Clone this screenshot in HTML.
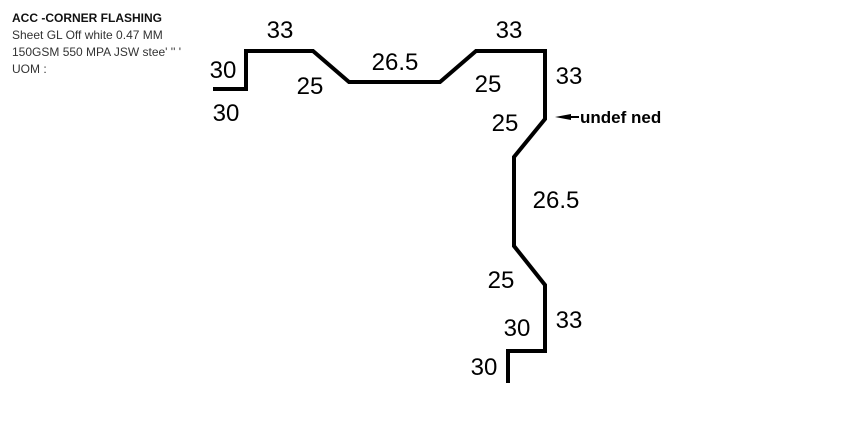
<!DOCTYPE html>
<html><head><meta charset="utf-8"><style>
body{margin:0;background:#fff;width:848px;height:429px;overflow:hidden;font-family:"Liberation Sans",sans-serif}
.hdr{position:absolute;left:12px;top:10px;font-size:12px;line-height:17px;color:#333}
.hdr b{color:#111}
</style></head><body>
<div class="hdr">
<div><b>ACC -CORNER FLASHING</b></div>
<div>Sheet GL Off white 0.47 MM</div>
<div>150GSM 550 MPA JSW stee' '' '</div>
<div>UOM :</div>
</div>
<svg width="848" height="429" style="position:absolute;left:0;top:0">
<polyline fill="none" stroke="#000" stroke-width="4" stroke-linejoin="miter" points="213,89 246,89 246,51 313,51 349,82 440,82 476,51 545,51 545,119 514,157 514,246 545,285 545,351 508,351 508,383"/>
<g font-family="Liberation Sans, sans-serif" font-size="24" fill="#000" text-anchor="middle">
<text x="280" y="38">33</text>
<text x="223" y="78">30</text>
<text x="226" y="121">30</text>
<text x="310" y="94">25</text>
<text x="395" y="70">26.5</text>
<text x="509" y="38">33</text>
<text x="488" y="92">25</text>
<text x="569" y="84">33</text>
<text x="505" y="131">25</text>
<text x="556" y="208">26.5</text>
<text x="501" y="288">25</text>
<text x="569" y="328">33</text>
<text x="517" y="336">30</text>
<text x="484" y="375">30</text>
</g>
<g>
<polygon points="555,117 571,114 571,120" fill="#000"/>
<line x1="565" y1="117" x2="579" y2="117" stroke="#000" stroke-width="2"/>
<text x="580" y="123" font-size="17" font-weight="bold" font-family="Liberation Sans, sans-serif">undef ned</text>
</g>
</svg>
</body></html>
